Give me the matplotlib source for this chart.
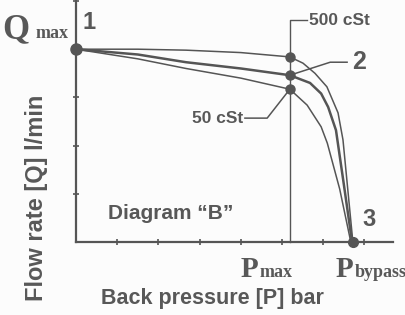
import numpy as np
import matplotlib
matplotlib.use("Agg")
import matplotlib.pyplot as plt

# curve data (pressure units, flow units)
p_500 = [0, 1.5, 2.67, 4.0, 5.19, 5.51, 5.8, 6.09, 6.36, 6.48, 6.6, 6.72]
q_500 = [4.0, 4.0, 3.98, 3.93, 3.84, 3.71, 3.5, 3.22, 2.68, 2.12, 1.06, 0]
p_mid = [0, 1.5, 2.67, 4.0, 5.19, 5.68, 5.95, 6.12, 6.31, 6.5, 6.7]
q_mid = [4.0, 3.89, 3.73, 3.6, 3.46, 3.30, 3.08, 2.80, 2.32, 1.2, 0]
p_50 = [0, 1.5, 2.67, 4.0, 5.19, 5.61, 5.95, 6.1, 6.4, 6.67]
q_50 = [4.0, 3.8, 3.60, 3.4, 3.17, 2.84, 2.39, 2.05, 1.1, 0]

p_max = 5.19
p_bypass = 6.72
q_max = 4.0
x_ticks = [1, 2, 3, 4, 5, 6, 7]
y_ticks = [1, 2, 3, 4, 5]

gray = "#555555"
tgray = "#585858"

fig = plt.figure(figsize=(4.06, 3.15), dpi=100)
fig.patch.set_facecolor("#fcfcfc")
ax = fig.add_axes([0, 0, 1, 1])
ax.set_facecolor("#fcfcfc")
ax.set_xlim(-76 / 41.2, 330 / 41.2)
ax.set_ylim(-73 / 48.2, 242 / 48.2)

for s in ["top", "right"]:
    ax.spines[s].set_visible(False)
ax.spines["left"].set_position(("data", 0))
ax.spines["bottom"].set_position(("data", 0))
ax.spines["left"].set_bounds(0, 5.0)
ax.spines["bottom"].set_bounds(0, 7.7)
for s in ["left", "bottom"]:
    ax.spines[s].set_color(gray)
    ax.spines[s].set_linewidth(1.6)
ax.set_xticks(x_ticks)
ax.set_yticks(y_ticks)
ax.tick_params(direction="inout", length=5, width=1.2, color=gray,
               labelbottom=False, labelleft=False)

# curves
ax.plot(p_500, q_500, color=gray, lw=1.1)
ax.plot(p_mid, q_mid, color=gray, lw=1.8)
ax.plot(p_50, q_50, color=gray, lw=1.1)

# Pmax line + leaders
ax.plot([p_max, p_max, 5.61], [0, 4.6, 4.6], color=gray, lw=1.0)
ax.plot([p_max, 6.17, 6.58], [3.46, 3.73, 3.73], color=gray, lw=1.1)
ax.plot([p_max, 4.64, 4.10], [3.17, 2.57, 2.57], color=gray, lw=1.1)

# points
ax.plot([0], [q_max], "o", color=gray, ms=8)
ax.plot([p_max] * 3, [3.84, 3.46, 3.17], "o", color=gray, ms=6.5)
ax.plot([p_bypass], [0], "o", color=gray, ms=7)

bold = dict(family="Liberation Sans", weight="bold", color=tgray)
serif = dict(family="Liberation Serif", weight="bold", color=tgray)

ax.text(5.66, 4.6, "500 cSt", fontsize=12.5, va="center", ha="left", **bold)
ax.text(4.05, 2.57, "50 cSt", fontsize=12.5, va="center", ha="right", **bold)
ax.text(6.70, 3.73, "2", fontsize=18, va="center", ha="left", **bold)
ax.text(0.15, 4.56, "1", fontsize=17, va="center", ha="left", **bold)
ax.text(6.94, 0.46, "3", fontsize=17, va="center", ha="left", **bold)

ax.text(-1.78, 4.23, "Q", fontsize=25, va="baseline", ha="left", **serif)
ax.text(-0.98, 4.23, "max", fontsize=13, va="baseline", ha="left", **serif)
ax.text(4.00, -0.73, "P", fontsize=21, va="baseline", ha="left", **serif)
ax.text(4.45, -0.73, "max", fontsize=13, va="baseline", ha="left", **serif)
ax.text(6.31, -0.73, "P", fontsize=21, va="baseline", ha="left", **serif)
ax.text(6.76, -0.73, "bypass", fontsize=13, va="baseline", ha="left", **serif)

ax.text(0.78, 0.60, "Diagram \u201cB\u201d", fontsize=15, va="center", ha="left", **bold)
ax.text(3.3, -1.18, "Back pressure [P] bar", fontsize=15.5, va="center", ha="center", **bold)
ax.text(-0.95, 0.91, "Flow rate [Q] l/min", fontsize=17, va="center", ha="center",
        rotation=90, **bold)

fig.savefig("out.png", dpi=100, facecolor=fig.get_facecolor())
